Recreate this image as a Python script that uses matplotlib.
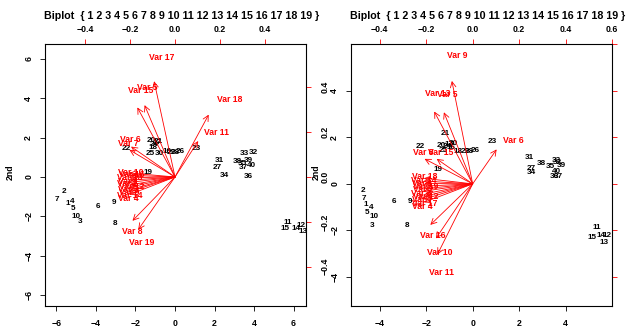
import matplotlib
matplotlib.use("Agg")
import matplotlib.pyplot as plt

plt.rcParams["font.family"] = ["Liberation Sans", "DejaVu Sans"]
plt.rcParams["font.weight"] = "bold"

obs_labels = [str(i) for i in range(1, 41)]
var_labels = ["Var %d" % i for i in range(1, 20)]
title = "Biplot  { 1 2 3 4 5 6 7 8 9 10 11 12 13 14 15 16 17 18 19 }"

# left panel: observation scores (1st, 2nd)
left_score_x = [-5.42, -5.62, -4.81, -5.22, -5.16, -3.90, -5.97, -3.04, -3.09, -5.01,
                5.72, 6.38, 6.48, 6.13, 5.57, -0.40, -0.90, -1.11, -1.37, -1.22,
                -0.87, -2.48, 1.06, -1.05, -1.27, 0.25, 2.13, 0.00, -0.20, -0.81,
                2.23, 3.95, 3.49, 2.48, 3.39, 3.70, 3.44, 3.14, 3.70, 3.85]
left_score_y = [-1.37, -0.76, -2.28, -1.22, -1.62, -1.52, -1.12, -2.34, -1.32, -2.03,
                -2.33, -2.44, -2.79, -2.64, -2.64, 1.27, 1.75, 1.52, 0.25, 1.83,
                1.80, 1.42, 1.47, 1.65, 1.17, 1.27, 0.46, 1.22, 1.25, 1.17,
                0.86, 1.22, 1.17, 0.05, 0.66, 0.00, 0.46, 0.76, 0.86, 0.56]
# left panel: variable loadings
left_load_x = [-0.251, -0.258, -0.254, -0.253, -0.169, -0.244, -0.253, -0.236, -0.250, -0.253,
               0.129, -0.247, -0.256, -0.257, -0.209, -0.249, -0.116, 0.187, -0.204]
left_load_y = [-0.018, -0.031, -0.058, -0.098, 0.400, 0.169, 0.151, -0.244, -0.071, 0.022,
               0.200, -0.044, -0.004, -0.084, 0.387, 0.009, 0.533, 0.347, -0.293]

# right panel: observation scores
right_score_x = [-4.59, -4.72, -4.33, -4.38, -4.55, -3.39, -4.68, -2.83, -2.70, -4.25,
                 5.36, 5.79, 5.67, 5.54, 5.15, -0.95, -1.00, -0.64, -1.50, -1.37,
                 -1.20, -2.27, 0.86, -1.10, -1.25, 0.09, 2.53, -0.15, -0.34, -0.85,
                 2.45, 3.65, 3.61, 2.53, 3.35, 3.52, 3.69, 2.96, 3.82, 3.61]
right_score_y = [-0.90, -0.30, -1.80, -1.03, -1.24, -0.77, -0.64, -1.80, -0.77, -1.42,
                 -1.89, -2.23, -2.53, -2.23, -2.32, 1.55, 1.70, 1.37, 0.60, 1.63,
                 2.15, 1.59, 1.80, 1.60, 1.45, 1.42, 0.64, 1.37, 1.37, 1.75,
                 1.12, 0.90, 0.99, 0.47, 0.73, 0.30, 0.30, 0.86, 0.77, 0.52]
right_load_x = [-0.261, -0.258, -0.265, -0.262, -0.155, 0.129, -0.260, -0.259, -0.112, -0.198,
                -0.190, -0.256, -0.207, -0.264, -0.194, -0.228, -0.263, -0.263, -0.259]
right_load_y = [0.002, -0.026, -0.040, -0.099, 0.384, 0.185, -0.068, 0.134, 0.552, -0.293,
                -0.379, -0.054, 0.388, 0.015, 0.134, -0.220, -0.083, 0.030, -0.012]

W, H = 627, 331
fig = plt.figure(figsize=(W / 100, H / 100), dpi=100)


def panel(left_px, sx, sy, lx, ly, ratio, xlim, ylim, score_ticks_x, score_ticks_y, load_ticks_x, load_ticks_y):
    ax = fig.add_axes([left_px / W, 25 / H, 261 / W, 262 / H])
    ax.set_xlim(*xlim)
    ax.set_ylim(*ylim)

    for x, y, s in zip(sx, sy, obs_labels):
        ax.text(x, y, s, fontsize=5.9, ha="center", va="center", color="black")

    for x, y, s in zip(lx, ly, var_labels):
        ax.annotate("", xy=(x * ratio * 0.8, y * ratio * 0.8), xytext=(0, 0),
                    arrowprops=dict(arrowstyle="->,head_length=0.4,head_width=0.2",
                                    color="red", lw=0.6, shrinkA=0, shrinkB=0))
        ax.text(x * ratio, y * ratio, s, fontsize=6.2, ha="left", va="center", color="red")

    ax.set_xticks(score_ticks_x)
    ax.set_yticks(score_ticks_y)
    ax.tick_params(direction="out", length=3.5, width=0.6, labelsize=6.3)
    ax.tick_params(axis="x", pad=6)
    ax.tick_params(axis="y", pad=5, labelrotation=90)
    for lab in ax.get_yticklabels():
        lab.set_va("center")
    for sp in ax.spines.values():
        sp.set_linewidth(0.8)

    f = lambda v: v / ratio
    finv = lambda v: v * ratio
    top = ax.secondary_xaxis("top", functions=(f, finv))
    top.set_xticks(load_ticks_x)
    top.tick_params(direction="out", length=3.5, width=0.6, color="red", labelsize=6.3, pad=4)
    top.spines["top"].set_visible(False)
    rgt = ax.secondary_yaxis("right", functions=(f, finv))
    rgt.set_yticks(load_ticks_y)
    rgt.tick_params(direction="out", length=3.5, width=0.6, color="red", labelsize=6.3,
                    pad=7, labelrotation=90)
    rgt.spines["right"].set_visible(False)
    for lab in rgt.get_yticklabels():
        lab.set_va("center")

    cx = (left_px + 130.5 + 6) / W
    fig.text(cx, 1 - 16 / H, title, fontsize=7.65, ha="center", va="center")
    fig.text((left_px - 35) / W, 1 - 172 / H, "2nd", fontsize=6.3, rotation=90,
             ha="center", va="center")
    return ax


panel(45, left_score_x, left_score_y, left_load_x, left_load_y, 11.4,
      (-6.58, 6.63), (-6.55, 6.75), [-6, -4, -2, 0, 2, 4, 6], [-6, -4, -2, 0, 2, 4, 6],
      [-0.4, -0.2, 0.0, 0.2, 0.4], [-0.4, -0.2, 0.0, 0.2, 0.4])
panel(351, right_score_x, right_score_y, right_load_x, right_load_y, 10.0,
      (-5.24, 6.001), (-5.24, 6.001), [-4, -2, 0, 2, 4], [-4, -2, 0, 2, 4],
      [-0.4, -0.2, 0.0, 0.2, 0.4, 0.6], [-0.4, -0.2, 0.0, 0.2, 0.4, 0.6])

fig.savefig("out.png", dpi=100)
